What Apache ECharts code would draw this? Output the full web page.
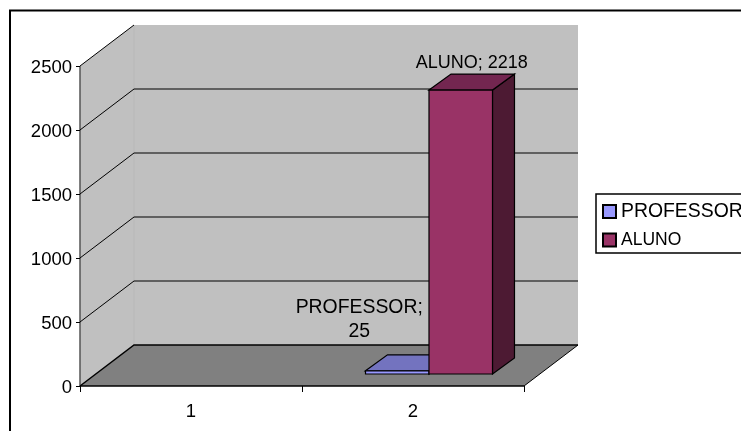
<!DOCTYPE html>
<html><head><meta charset="utf-8">
<style>html,body{margin:0;padding:0;background:#fff;overflow:hidden}#c{width:741px;height:431px}</style>
<script src="https://cdn.jsdelivr.net/npm/echarts@6/dist/echarts.min.js"></script>
</head><body><div id="c"></div>
<script>
const categories = ['1', '2'];
const professorValues = [0, 25];
const alunoValues = [0, 2218];
const yTicks = [500, 1000, 1500, 2000, 2500];

const FONT = 'Liberation Sans, Arial, sans-serif';
const FS = 18.5;
const DX = 54, DY = 41;            // plot depth
const BDX = 22, BDY = 16;          // bar depth
const OX = 16, OY = 12;            // bar inset from plot front
const BARW = 0.286;                // bar width, share of band
const seriesColors = {PROFESSOR: ['#9999FF', '#7373BF', '#4D4D80'], ALUNO: ['#993366', '#732650', '#4D1A33']};

function poly(points, fill, stroke, w) {
  return {type: 'polygon', shape: {points}, style: {fill, stroke: stroke || 'none', lineWidth: w || 0}};
}
function line(points, stroke, w) {
  return {type: 'polyline', shape: {points}, style: {fill: 'none', stroke, lineWidth: w}};
}
function wallsItem(params, api) {
  const c = params.coordSys, L = c.x, R = c.x + c.width, T = c.y, B = c.y + c.height;
  return {type: 'group', children: [
    poly([[L, T], [L + DX, T - DY], [R + DX, T - DY], [R + DX, B - DY], [L + DX, B - DY], [L, B]], '#C0C0C0'),
    line([[L + DX, T - DY], [L + DX, B - DY]], '#B8B8B8', 1),
    poly([[L, B], [L + DX, B - DY], [R + DX, B - DY], [R, B]], '#808080'),
    line([[L, T], [L + DX, T - DY]], '#000', 1),
    line([[L, T], [L, B]], '#555', 1.5),
    line([[L, B], [L + DX, B - DY], [R + DX, B - DY]], '#000', 1.5),
    line([[R + DX, B - DY], [R, B]], '#000', 1),
    line([[L, B], [R, B]], '#000', 1.5)
  ]};
}
function gridItem(params, api) {
  const c = params.coordSys, L = c.x, R = c.x + c.width;
  const v = api.value(0);
  const y = api.coord([0, v])[1];
  const diag = line([[L, y], [L + DX, y - DY]], '#000', 1);
  const back = line([[L + DX, y - DY], [R + DX, y - DY]], '#404040', 1.5);
  return {type: 'group', children: v === 2500 ? [] : [diag, back]};
}
function barItem(slot, labelDx, labelDy, wrap, labelSize) {
  return function (params, api) {
    const v = api.value(1);
    if (!v) return null;
    const name = params.seriesName;
    const col = seriesColors[name];
    const cat = api.value(0);
    const band = api.size([1, 0])[0];
    const w = band * BARW;
    const base = api.coord([cat, 0]);
    const top = api.coord([cat, v]);
    const x0 = base[0] + OX + (slot - 1) * w, x1 = x0 + w;
    const yb = base[1] - OY, yt = top[1] - OY;
    const bs = {stroke: '#000', lineWidth: 1.2};
    const shape = (pts, fill) => ({type: 'polygon', shape: {points: pts}, style: Object.assign({fill}, bs)});
    return {type: 'group', children: [
      shape([[x1, yb], [x1 + BDX, yb - BDY], [x1 + BDX, yt - BDY], [x1, yt]], col[2]),
      shape([[x0, yt], [x0 + BDX, yt - BDY], [x1 + BDX, yt - BDY], [x1, yt]], col[1]),
      shape([[x0, yb], [x1, yb], [x1, yt], [x0, yt]], col[0]),
      {type: 'text', x: (x0 + x1) / 2 + BDX / 2 + labelDx, y: yt - BDY + labelDy,
       style: {text: name + ';' + wrap + v, fill: '#000', font: labelSize + 'px ' + FONT,
               align: 'center', verticalAlign: 'bottom', lineHeight: 24}}
    ]};
  };
}
const chart = echarts.init(document.getElementById('c'), null, {renderer: 'canvas'});
chart.setOption({
  animation: false,
  backgroundColor: '#fff',
  textStyle: {fontFamily: FONT},
  graphic: [{type: 'rect', z: -1, shape: {x: 10, y: 10.5, width: 900, height: 600},
             style: {fill: '#fff', stroke: '#000', lineWidth: 2}}],
  grid: {left: 80, top: 66, width: 444, height: 320},
  legend: {
    orient: 'vertical', left: 596, top: 194, padding: [8, 40, 4, 6], itemGap: 10,
    itemWidth: 13, itemHeight: 13, borderColor: '#000', borderWidth: 1.5, backgroundColor: '#fff',
    formatter: n => '{' + (n === 'ALUNO' ? 'a' : 'p') + '|' + n + '}',
    textStyle: {fontSize: FS, color: '#000', fontFamily: FONT, padding: [0, 0, 0, 0],
      rich: {p: {fontSize: 19.4, fontFamily: FONT, color: '#000'}, a: {fontSize: 17.5, fontFamily: FONT, color: '#000'}}},
    data: [{name: 'PROFESSOR', icon: 'rect'}, {name: 'ALUNO', icon: 'rect'}]
  },
  xAxis: {type: 'category', data: categories, boundaryGap: true,
    axisLine: {show: false},
    axisTick: {show: true, alignWithLabel: false, length: 6, lineStyle: {color: '#000'}},
    axisLabel: {color: '#000', fontSize: FS, margin: 16, fontFamily: FONT}, z: 10},
  yAxis: {type: 'value', min: 0, max: 2500, interval: 500,
    axisLine: {show: false},
    axisTick: {show: true, length: 4, lineStyle: {color: '#000'}},
    splitLine: {show: false},
    axisLabel: {color: '#000', fontSize: FS, margin: 8, fontFamily: FONT,
      formatter: v => '{v|' + v + '}',
      rich: {v: {fontSize: FS, fontFamily: FONT, color: '#000', padding: [4, 0, 0, 0]}}}, z: 10},
  series: [
    {type: 'custom', name: 'walls', silent: true, z: 1, renderItem: wallsItem, data: [[0]], encode: {x: -1, y: -1}, clip: false},
    {type: 'custom', name: 'grid', silent: true, z: 2, renderItem: gridItem, data: yTicks.map(v => [v]), encode: {x: -1, y: 0}, clip: false},
    {type: 'custom', name: 'PROFESSOR', z: 3, itemStyle: {color: '#9999FF', borderColor: '#000', borderWidth: 1}, clip: false,
     renderItem: barItem(0, -49, -11, '\n', 19.4), data: professorValues.map((v, i) => [i, v]), encode: {x: 0, y: 1}},
    {type: 'custom', name: 'ALUNO', z: 4, itemStyle: {color: '#993366', borderColor: '#000', borderWidth: 1}, clip: false,
     renderItem: barItem(1, 0, 1, ' ', 18), data: alunoValues.map((v, i) => [i, v]), encode: {x: 0, y: 1}}
  ]
});
</script></body></html>
